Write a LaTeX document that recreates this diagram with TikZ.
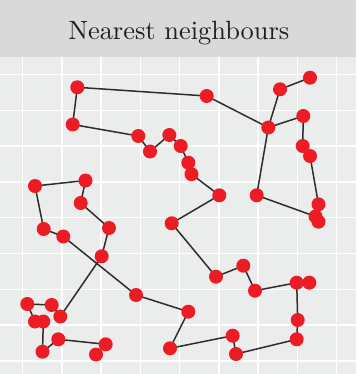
\documentclass[tikz,border=0pt]{standalone}
\usepackage{graphicx}
\pgfdeclarelayer{back}
\pgfdeclarelayer{edges}
\pgfsetlayers{back,edges,main}
\definecolor{stripbg}{RGB}{217,217,217}
\definecolor{panelbg}{RGB}{235,236,236}
\definecolor{ptred}{RGB}{236,28,36}
\definecolor{edgegrey}{RGB}{45,45,45}
\definecolor{titlegrey}{RGB}{30,30,30}
\tikzset{
  pt/.style={circle, fill=ptred, draw=none, minimum size=14pt, inner sep=0pt},
  edge/.style={draw=edgegrey, line width=1.5pt},
  gridline/.style={draw=white, line width=1.5pt}
}
\begin{document}
\begin{tikzpicture}[x=1pt,y=-1pt]
\useasboundingbox (0,0) rectangle (356,374);
\begin{pgfonlayer}{back}
% strip and panel
\fill[stripbg] (0,0) rectangle (356,56.7);
\fill[panelbg] (0,56.7) rectangle (356,374);
% grid
\foreach \gx in {22.5,61.75,101,140.25,179.5,218.75,258,297.25,336.5}
  \draw[gridline] (\gx,56.7) -- (\gx,374);
\foreach \gy in {74.5,110.3,146.1,181.9,217.7,253.5,289.3,325.1,360.9}
  \draw[gridline] (0,\gy) -- (356,\gy);
\end{pgfonlayer}
\node[text=titlegrey, anchor=base, inner sep=0pt] (title) at (178.8,39.3) {\resizebox{221pt}{!}{Nearest neighbours}};
% points
\node[pt] (a1) at (77.3,87.3) {};
\node[pt] (a2) at (206.7,96) {};
\node[pt] (a3) at (268.3,127.5) {};
\node[pt] (a4) at (280,89.3) {};
\node[pt] (a5) at (310,77.7) {};
\node[pt] (a6) at (303.3,116) {};
\node[pt] (a7) at (302.7,146) {};
\node[pt] (a8) at (310,156) {};
\node[pt] (a9) at (318.5,204.3) {};
\node[pt] (a10) at (315.5,216.5) {};
\node[pt] (a11) at (318.5,221.7) {};
\node[pt] (a12) at (256.7,195.3) {};
\node[pt] (b1) at (72.7,124.5) {};
\node[pt] (b2) at (138.3,136) {};
\node[pt] (b3) at (150,151.5) {};
\node[pt] (b4) at (169.3,135) {};
\node[pt] (b5) at (180.7,146) {};
\node[pt] (b6) at (188.3,162.7) {};
\node[pt] (b7) at (191.5,174.2) {};
\node[pt] (b8) at (219.3,195.3) {};
\node[pt] (b9) at (171.7,223.3) {};
\node[pt] (b10) at (216,276.7) {};
\node[pt] (b11) at (243.3,265.7) {};
\node[pt] (b12) at (255,290.7) {};
\node[pt] (b14) at (309.3,282.7) {};
\node[pt] (b13) at (296.7,282.7) {};
\node[pt] (c1) at (297.7,320) {};
\node[pt] (c2) at (296.7,339.3) {};
\node[pt] (c3) at (236,354) {};
\node[pt] (c4) at (232.7,335.7) {};
\node[pt] (c5) at (170,348.3) {};
\node[pt] (c6) at (188.3,311.7) {};
\node[pt] (c7) at (136,295) {};
\node[pt] (c8) at (63.3,236.5) {};
\node[pt] (c9) at (43.7,229) {};
\node[pt] (c10) at (35,186) {};
\node[pt] (c11) at (85.5,180.5) {};
\node[pt] (c12) at (80.7,203) {};
\node[pt] (c13) at (109,228) {};
\node[pt] (c14) at (101.7,256.3) {};
\node[pt] (c15) at (60.3,316.5) {};
\node[pt] (c16) at (51.7,305) {};
\node[pt] (c17) at (27.3,304) {};
\node[pt] (c18) at (35,321.5) {};
\node[pt] (c19) at (43.3,321.5) {};
\node[pt] (c20) at (42.5,351.7) {};
\node[pt] (c21) at (58.3,339.3) {};
\node[pt] (c22) at (105.7,344.3) {};
\node[pt] (c23) at (96,354.5) {};
% edges
\begin{pgfonlayer}{edges}
\path[edge] (a1.center) -- (a2.center) -- (a3.center) -- (a4.center) -- (a5.center);
\path[edge] (a3.center) -- (a6.center) -- (a7.center) -- (a8.center) -- (a9.center) -- (a11.center) -- (a10.center) -- (a12.center) -- (a3.center);
\path[edge] (a1.center) -- (b1.center) -- (b2.center) -- (b3.center) -- (b4.center) -- (b5.center) -- (b6.center) -- (b7.center) -- (b8.center) -- (b9.center) -- (b10.center) -- (b11.center) -- (b12.center) -- (b13.center) -- (b14.center);
\path[edge] (b13.center) -- (c1.center) -- (c2.center) -- (c3.center) -- (c4.center) -- (c5.center) -- (c6.center) -- (c7.center) -- (c8.center) -- (c9.center) -- (c10.center) -- (c11.center) -- (c12.center) -- (c13.center) -- (c14.center) -- (c15.center) -- (c16.center) -- (c17.center) -- (c18.center) -- (c19.center) -- (c20.center) -- (c21.center) -- (c22.center) -- (c23.center);
\end{pgfonlayer}
\end{tikzpicture}
\end{document}
